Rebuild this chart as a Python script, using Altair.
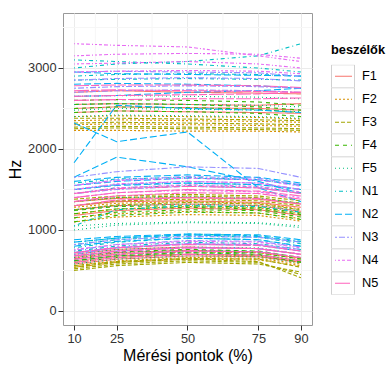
import altair as alt
import pandas as pd

# measuring points along the vowel (% of duration)
points = [10, 25, 50, 75, 90]
speakers = ["F1", "F2", "F3", "F4", "F5", "N1", "N2", "N3", "N4", "N5"]
palette = ["#F8766D", "#D89000", "#A3A500", "#39B600", "#00BF7D",
           "#00BFC4", "#00B0F6", "#9590FF", "#E76BF3", "#FF62BC"]
dashes = [[1, 0], [2, 2], [4, 2], [4, 4], [1, 3],
          [1, 3, 4, 3], [7, 3], [2, 2, 6, 2], [1, 2, 2, 2, 3, 2, 4, 2], [15, 2, 8, 2]]

# formant tracks (Hz) per speaker, one row per vowel and formant
F1_tracks = [
    [620, 680, 700, 690, 620], [660, 720, 750, 730, 650], [580, 640, 680, 670, 600], [700, 760, 790, 770, 700],
    [1250, 1300, 1320, 1300, 1230], [1300, 1350, 1360, 1340, 1280], [1180, 1240, 1270, 1250, 1180], [1350, 1390, 1400, 1380, 1320],
    [2500, 2520, 2510, 2500, 2480], [2550, 2560, 2550, 2540, 2560], [2700, 2720, 2700, 2690, 2680], [2450, 2470, 2460, 2450, 2440],
]
F2_tracks = [
    [540, 600, 640, 630, 560], [600, 660, 700, 680, 600], [560, 620, 660, 650, 580], [650, 700, 730, 720, 640],
    [1200, 1260, 1290, 1270, 1200], [1280, 1330, 1350, 1330, 1260], [1150, 1200, 1230, 1210, 1140], [1100, 1160, 1190, 1180, 1110],
    [2230, 2230, 2220, 2220, 2210], [2300, 2310, 2300, 2290, 2280], [2350, 2360, 2350, 2340, 2330], [2400, 2410, 2400, 2390, 2370],
]
F3_tracks = [
    [500, 560, 600, 580, 480], [520, 580, 620, 600, 450], [560, 610, 650, 640, 540], [540, 600, 640, 610, 410],
    [1300, 1360, 1380, 1360, 1300], [1350, 1400, 1420, 1400, 1330], [1250, 1310, 1340, 1320, 1250], [1380, 1420, 1440, 1420, 1360],
    [2270, 2280, 2270, 2260, 2250], [2320, 2330, 2320, 2310, 2300], [2380, 2380, 2370, 2360, 2350], [2250, 2260, 2250, 2240, 2230],
]
F4_tracks = [
    [600, 660, 700, 690, 600], [640, 700, 730, 720, 640], [680, 730, 760, 740, 660], [620, 680, 720, 700, 610],
    [1100, 1180, 1220, 1210, 1130], [1150, 1220, 1250, 1240, 1160], [1200, 1260, 1280, 1260, 1190], [1240, 1290, 1300, 1280, 1210],
    [2450, 2470, 2460, 2440, 2400], [2500, 2520, 2510, 2490, 2450], [2550, 2560, 2550, 2520, 2480], [2600, 2610, 2600, 2580, 2540],
]
F5_tracks = [
    [580, 640, 680, 670, 590], [620, 680, 720, 700, 620], [660, 720, 750, 740, 660], [700, 760, 790, 780, 700],
    [1050, 1080, 1100, 1090, 1050], [1000, 1060, 1090, 1080, 1030], [1250, 1300, 1320, 1300, 1240], [1350, 1400, 1410, 1390, 1330],
    [2400, 2420, 2410, 2400, 2380], [2480, 2500, 2490, 2480, 2460], [2550, 2560, 2550, 2540, 2520], [2650, 2660, 2650, 2640, 2620],
]
N1_tracks = [
    [780, 850, 900, 880, 800], [820, 880, 930, 910, 830], [850, 900, 950, 930, 860], [740, 800, 850, 830, 760],
    [1500, 1560, 1580, 1560, 1500], [1580, 1630, 1650, 1620, 1560], [1450, 1520, 1550, 1530, 1460], [1050, 1250, 1300, 1290, 1220],
    [3000, 3050, 3080, 3150, 3300], [2900, 2920, 2930, 2920, 2900], [3100, 3080, 3050, 3000, 2950], [2850, 2860, 2870, 2860, 2850],
]
N2_tracks = [
    [800, 860, 900, 880, 800], [850, 900, 940, 920, 850], [720, 780, 830, 810, 740], [880, 920, 950, 940, 880],
    [1600, 1650, 1680, 1650, 1580], [1550, 1600, 1640, 1620, 1550], [1650, 1900, 1780, 1600, 1450], [1500, 1550, 1580, 1560, 1500],
    [2800, 2810, 2800, 2780, 2750], [2950, 2930, 2920, 2910, 2900], [2320, 2090, 2210, 1520, 1350], [1830, 2540, 2500, 2480, 2450],
    [2650, 2660, 2700, 2720, 2750],
]
N3_tracks = [
    [700, 780, 830, 820, 760], [750, 820, 870, 860, 790], [820, 880, 920, 910, 850], [680, 740, 780, 770, 700],
    [1650, 1720, 1780, 1760, 1650], [1550, 1620, 1660, 1640, 1560], [1500, 1560, 1600, 1580, 1500], [1450, 1500, 1540, 1520, 1450],
    [2750, 2770, 2780, 2770, 2750], [2850, 2870, 2880, 2870, 2840], [2950, 2960, 2950, 2940, 2900], [2700, 2720, 2730, 2720, 2700],
]
N4_tracks = [
    [680, 740, 780, 770, 700], [720, 790, 830, 820, 740], [760, 820, 860, 850, 780], [640, 700, 740, 730, 660],
    [1450, 1520, 1560, 1540, 1470], [1500, 1570, 1600, 1580, 1500], [1400, 1460, 1490, 1470, 1400], [1550, 1610, 1640, 1620, 1540],
    [3300, 3280, 3260, 3150, 3080], [3150, 3170, 3180, 3170, 3120], [3050, 3060, 3080, 3050, 3000], [2950, 2960, 2970, 2960, 2930],
]
N5_tracks = [
    [640, 700, 740, 730, 660], [680, 740, 780, 770, 700], [720, 780, 820, 810, 740], [600, 660, 700, 690, 620],
    [1350, 1420, 1460, 1450, 1380], [1400, 1460, 1500, 1480, 1420], [1450, 1510, 1540, 1520, 1450], [1300, 1370, 1400, 1390, 1320],
    [2650, 2660, 2670, 2680, 2700], [2720, 2730, 2720, 2710, 2700], [2780, 2790, 2790, 2780, 2760], [2600, 2610, 2620, 2620, 2630],
]

# minor grid positions
minor_x = [17.5, 37.5, 62.5, 82.5]
minor_y = [500, 1500, 2500, 3500]

tracks = dict(zip(speakers, [F1_tracks, F2_tracks, F3_tracks, F4_tracks, F5_tracks,
                             N1_tracks, N2_tracks, N3_tracks, N4_tracks, N5_tracks]))

rows = []
for spk, lines in tracks.items():
    for i, vals in enumerate(lines):
        for p, v in zip(points, vals):
            rows.append({"beszélők": spk, "vonal": f"{spk}-{i}", "pont": p, "Hz": v})
df = pd.DataFrame(rows)

x_scale = alt.Scale(domain=[6.1, 93.9], nice=False, zero=False)
y_scale = alt.Scale(domain=[-173, 3679], nice=False, zero=False)

x_enc = alt.X("pont:Q", scale=x_scale,
              axis=alt.Axis(values=points, title="Mérési pontok (%)"))
y_enc = alt.Y("Hz:Q", scale=y_scale,
              axis=alt.Axis(values=[0, 1000, 2000, 3000], format="d", title="Hz"))

vgrid = alt.Chart(pd.DataFrame({"pont": minor_x})).mark_rule(
    color="#F6F6F6", strokeWidth=1).encode(x=alt.X("pont:Q", scale=x_scale))
hgrid = alt.Chart(pd.DataFrame({"Hz": minor_y})).mark_rule(
    color="#F6F6F6", strokeWidth=1).encode(y=alt.Y("Hz:Q", scale=y_scale))

# both legends share position, title block and 23px rows, so the key frames sit under the samples
LEGEND_X, LEGEND_Y = 268, 31
shared = dict(orient="none", legendX=LEGEND_X, legendY=LEGEND_Y, clipHeight=23, rowPadding=0,
              titleFontSize=12.8, titleFontWeight="bold", titleColor="#000",
              titlePadding=8, labelFontSize=12.8, labelColor="#000")

lines = alt.Chart(df).mark_line(strokeWidth=1.1, clip=True).encode(
    x=x_enc,
    y=y_enc,
    color=alt.Color("beszélők:N", scale=alt.Scale(domain=speakers, range=palette),
                    legend=alt.Legend(title="beszélők", symbolType="stroke", symbolSize=289,
                                      symbolStrokeWidth=1.1, symbolOffset=3, labelOffset=9,
                                      zindex=2, **shared)),
    strokeDash=alt.StrokeDash("beszélők:N", scale=alt.Scale(domain=speakers, range=dashes)),
    detail="vonal:N",
)

# framed key cells of the legend
keys = alt.Chart(pd.DataFrame({"kulcs": speakers})).mark_point(
    filled=False, color="#D0D0D0", opacity=1, size=529, clip=True, strokeWidth=1
).encode(
    x=alt.value(-500), y=alt.value(-500),
    shape=alt.Shape("kulcs:N", scale=alt.Scale(domain=speakers, range=["square"] * 10),
                    legend=alt.Legend(title=" ", values=speakers, labelExpr="''",
                                      symbolSize=529, symbolOffset=0,
                                      symbolStrokeColor="#D0D0D0", symbolStrokeWidth=1,
                                      symbolFillColor="transparent", zindex=1, **shared)),
)

chart = alt.layer(vgrid, hgrid, lines, keys).resolve_legend(
    shape="independent"
).properties(
    width=249, height=312,
    autosize=alt.AutoSizeParams(type="none"),
    padding={"left": 63, "top": 13, "right": 74, "bottom": 40},
).configure_view(
    stroke="#999999", strokeWidth=1
).configure_axis(
    grid=True, gridColor="#EBEBEB", gridWidth=1, domain=False,
    tickColor="#333333", tickSize=5, labelPadding=2,
    labelFont="Liberation Sans", titleFont="Liberation Sans",
    labelFontSize=12.8, labelColor="#333333",
    titleFontSize=16, titleFontWeight="normal", titleColor="#000000",
).configure_axisX(
    titlePadding=3,
).configure_axisY(
    titlePadding=4,
).configure_legend(
    labelFont="Liberation Sans", titleFont="Liberation Sans",
)

chart.save("out.html", embed_options={"renderer": "svg", "actions": False})
